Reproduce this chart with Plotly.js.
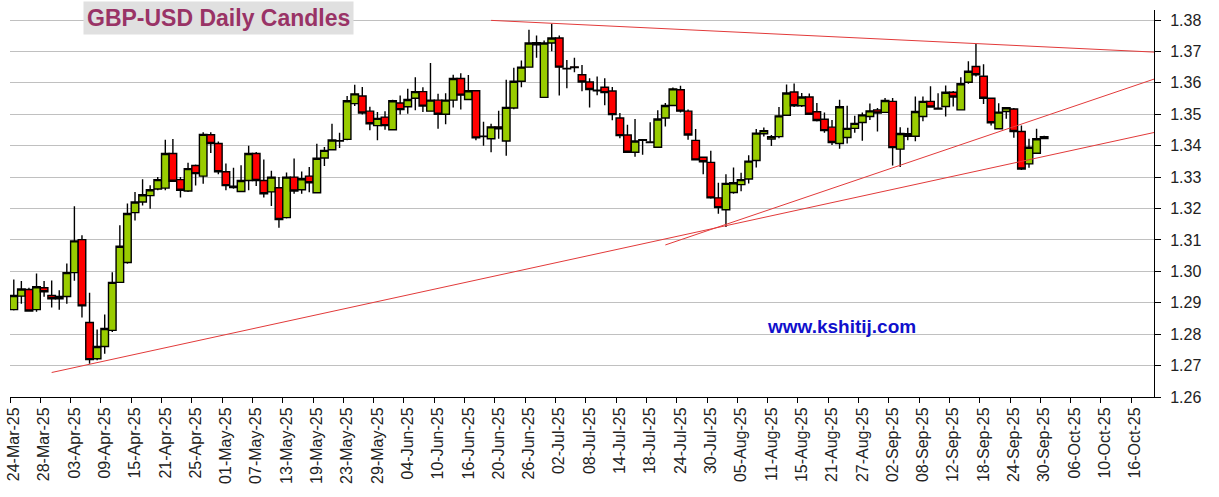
<!DOCTYPE html>
<html>
<head>
<meta charset="utf-8">
<script src="https://cdn.plot.ly/plotly-3.0.1.min.js"></script>
<style>
  html, body { margin: 0; padding: 0; background: #fff; }
  #chart { width: 1219px; height: 497px; }
</style>
</head>
<body>
<div id="chart"></div>
<script>
// ---- Data (GBP-USD daily candles, trading-day index 0 = 24-Mar-25) ----
const firstDay = '2025-03-24';
const lastAxisDay = '2025-10-20';

const openP = [
 1.2878,1.2921,1.2942,1.2878,1.2948,1.2923,1.2913,1.2920,1.2996,1.3101,
 1.2837,1.2722,1.2761,1.2812,1.2965,1.3028,1.3187,1.3221,1.3241,1.3262,
 1.3265,1.3375,1.3292,1.3256,1.3337,1.3303,1.3435,1.3407,1.3317,1.3267,
 1.3254,1.3289,1.3375,1.3289,1.3253,1.3266,1.3171,1.3300,1.3260,1.3303,
 1.3250,1.3361,1.3387,1.3415,1.3420,1.3534,1.3558,1.3510,1.3464,1.3491,
 1.3451,1.3536,1.3524,1.3551,1.3572,1.3510,1.3545,1.3500,1.3545,1.3614,
 1.3547,1.3575,1.3429,1.3422,1.3460,1.3415,1.3520,1.3605,1.3650,1.3728,
 1.3554,1.3727,1.3743,1.3645,1.3651,1.3626,1.3603,1.3577,1.3586,1.3574,
 1.3488,1.3434,1.3379,1.3419,1.3410,1.3395,1.3488,1.3528,1.3578,1.3510,
 1.3417,1.3363,1.3347,1.3234,1.3196,1.3251,1.3276,1.3294,1.3353,1.3438,
 1.3421,1.3429,1.3497,1.3571,1.3527,1.3555,1.3508,1.3484,1.3459,1.3407,
 1.3426,1.3455,1.3474,1.3493,1.3514,1.3506,1.3541,1.3389,1.3438,1.3430,
 1.3493,1.3541,1.3517,1.3525,1.3570,1.3514,1.3602,1.3652,1.3621,1.3551,
 1.3454,1.3509,1.3517,1.3445,1.3342,1.3376,1.3423
];
const highP = [
 1.2974,1.2969,1.2948,1.2993,1.2969,1.2971,1.2940,1.3025,1.3207,1.3115,
 1.2932,1.2815,1.2863,1.2997,1.3147,1.3216,1.3253,1.3293,1.3274,1.3300,
 1.3419,1.3421,1.3300,1.3346,1.3340,1.3443,1.3443,1.3413,1.3343,1.3330,
 1.3338,1.3400,1.3380,1.3356,1.3320,1.3300,1.3315,1.3359,1.3318,1.3332,
 1.3406,1.3396,1.3470,1.3441,1.3558,1.3594,1.3587,1.3524,1.3507,1.3510,
 1.3546,1.3560,1.3581,1.3618,1.3586,1.3663,1.3565,1.3567,1.3626,1.3631,
 1.3625,1.3577,1.3476,1.3470,1.3511,1.3610,1.3648,1.3671,1.3769,1.3751,
 1.3735,1.3788,1.3751,1.3673,1.3680,1.3657,1.3615,1.3620,1.3615,1.3587,
 1.3504,1.3467,1.3485,1.3419,1.3475,1.3513,1.3536,1.3585,1.3591,1.3515,
 1.3453,1.3365,1.3384,1.3282,1.3309,1.3331,1.3314,1.3370,1.3453,1.3458,
 1.3434,1.3523,1.3595,1.3598,1.3568,1.3566,1.3536,1.3506,1.3482,1.3546,
 1.3527,1.3495,1.3506,1.3534,1.3520,1.3552,1.3552,1.3459,1.3457,1.3557,
 1.3557,1.3589,1.3567,1.3592,1.3574,1.3618,1.3669,1.3724,1.3659,1.3552,
 1.3535,1.3523,1.3520,1.3464,1.3422,1.3454,1.3432
];
const lowP = [
 1.2875,1.2897,1.2871,1.2871,1.2919,1.2885,1.2878,1.2897,1.2970,1.2853,
 1.2706,1.2717,1.2738,1.2807,1.2963,1.3024,1.3162,1.3210,1.3199,1.3258,
 1.3258,1.3285,1.3235,1.3253,1.3273,1.3279,1.3377,1.3309,1.3258,1.3263,
 1.3253,1.3258,1.3272,1.3235,1.3208,1.3139,1.3168,1.3247,1.3247,1.3252,
 1.3250,1.3335,1.3386,1.3393,1.3417,1.3526,1.3499,1.3449,1.3417,1.3451,
 1.3449,1.3499,1.3502,1.3513,1.3507,1.3508,1.3454,1.3468,1.3522,1.3515,
 1.3545,1.3417,1.3400,1.3379,1.3422,1.3368,1.3516,1.3586,1.3648,1.3680,
 1.3552,1.3701,1.3560,1.3583,1.3634,1.3573,1.3522,1.3561,1.3529,1.3481,
 1.3424,1.3378,1.3365,1.3371,1.3408,1.3394,1.3461,1.3527,1.3506,1.3419,
 1.3353,1.3309,1.3231,1.3183,1.3141,1.3247,1.3255,1.3280,1.3331,1.3429,
 1.3399,1.3424,1.3495,1.3523,1.3523,1.3498,1.3477,1.3441,1.3402,1.3390,
 1.3407,1.3441,1.3416,1.3482,1.3445,1.3504,1.3337,1.3332,1.3417,1.3414,
 1.3478,1.3521,1.3516,1.3493,1.3525,1.3513,1.3597,1.3620,1.3533,1.3464,
 1.3452,1.3486,1.3425,1.3323,1.3330,1.3376,1.3422
];
const closeP = [
 1.2923,1.2944,1.2874,1.2951,1.2935,1.2913,1.2920,1.2996,1.3097,1.2890,
 1.2719,1.2761,1.2818,1.2965,1.3080,1.3184,1.3221,1.3244,1.3260,1.3292,
 1.3375,1.3287,1.3258,1.3327,1.3311,1.3436,1.3407,1.3317,1.3273,1.3271,
 1.3289,1.3375,1.3289,1.3247,1.3300,1.3165,1.3300,1.3256,1.3295,1.3282,
 1.3360,1.3385,1.3418,1.3416,1.3543,1.3565,1.3504,1.3470,1.3487,1.3464,
 1.3543,1.3515,1.3547,1.3572,1.3526,1.3545,1.3500,1.3545,1.3614,1.3561,
 1.3575,1.3425,1.3430,1.3460,1.3454,1.3522,1.3605,1.3650,1.3727,1.3721,
 1.3727,1.3743,1.3650,1.3646,1.3649,1.3603,1.3579,1.3575,1.3569,1.3499,
 1.3432,1.3379,1.3415,1.3417,1.3412,1.3485,1.3528,1.3581,1.3510,1.3434,
 1.3355,1.3349,1.3234,1.3203,1.3280,1.3282,1.3292,1.3351,1.3440,1.3448,
 1.3429,1.3495,1.3568,1.3527,1.3555,1.3500,1.3480,1.3448,1.3410,1.3524,
 1.3455,1.3471,1.3498,1.3511,1.3504,1.3544,1.3394,1.3439,1.3430,1.3509,
 1.3541,1.3523,1.3519,1.3570,1.3555,1.3597,1.3637,1.3626,1.3551,1.3473,
 1.3507,1.3521,1.3445,1.3326,1.3395,1.3422,1.3429
];

// Tick labels shown every 4 trading days
const tickLabels = [
 '24-Mar-25','28-Mar-25','03-Apr-25','09-Apr-25','15-Apr-25','21-Apr-25','25-Apr-25',
 '01-May-25','07-May-25','13-May-25','19-May-25','23-May-25','29-May-25','04-Jun-25',
 '10-Jun-25','16-Jun-25','20-Jun-25','26-Jun-25','02-Jul-25','08-Jul-25','14-Jul-25',
 '18-Jul-25','24-Jul-25','30-Jul-25','05-Aug-25','11-Aug-25','15-Aug-25','21-Aug-25',
 '27-Aug-25','02-Sep-25','08-Sep-25','12-Sep-25','18-Sep-25','24-Sep-25','30-Sep-25',
 '06-Oct-25','10-Oct-25','16-Oct-25'
];

// Trend lines: start day, start price, end price (at right edge)
const trendStartDays = ['2025-06-19', '2025-03-31', '2025-07-22'];
const trendStartPrices = [1.3799, 1.2678, 1.3084];
const trendEndPrices = [1.3698, 1.3442, 1.3612];

// ---- weekday index helper ----
function weekdayIndex(dateStr) {
  const d0 = new Date(firstDay + 'T00:00:00Z');
  const d1 = new Date(dateStr + 'T00:00:00Z');
  let n = 0;
  for (let d = new Date(d0); d < d1; d.setUTCDate(d.getUTCDate() + 1)) {
    const wd = d.getUTCDay();
    if (wd !== 0 && wd !== 6) n++;
  }
  return n;
}
const nAxisDays = weekdayIndex(lastAxisDay) + 1; // 151 slots
const xIdx = openP.map((_, i) => i);
const tickVals = tickLabels.map((_, k) => k * 4);
const tickBounds = tickVals.map(v => v - 0.5);

const xMin = -0.5, xMax = nAxisDays - 0.5;

const fontFam = 'Arial, "Liberation Sans", sans-serif';

const trace = {
  type: 'candlestick',
  x: xIdx,
  open: openP, high: highP, low: lowP, close: closeP,
  increasing: { fillcolor: '#99cc00', line: { color: '#000000', width: 1.4 } },
  decreasing: { fillcolor: '#ff0000', line: { color: '#000000', width: 1.4 } },
  whiskerwidth: 0,
  showlegend: false,
  hoverinfo: 'skip'
};

const shapes = trendStartDays.map((d, k) => ({
  type: 'line', xref: 'x', yref: 'y',
  x0: weekdayIndex(d), y0: trendStartPrices[k],
  x1: xMax, y1: trendEndPrices[k],
  line: { color: '#e23a3a', width: 1 },
  layer: 'above'
}));

const layout = {
  width: 1219, height: 497,
  margin: { l: 10, r: 65, t: 10, b: 100, pad: 0 },
  paper_bgcolor: '#ffffff', plot_bgcolor: '#ffffff',
  boxgap: 0, boxgroupgap: 0,
  font: { family: fontFam, size: 16, color: '#222222' },
  xaxis: {
    type: 'linear',
    range: [xMin, xMax],
    tickmode: 'array', tickvals: tickVals, ticktext: tickLabels,
    tickangle: -90,
    ticks: '',
    ticklabelstandoff: 3,
    showgrid: false, zeroline: false,
    showline: true, linecolor: '#000000', linewidth: 1,
    rangeslider: { visible: false },
    tickfont: { family: fontFam, size: 16, color: '#222222' },
    minor: { tickmode: 'array', tickvals: tickBounds, ticks: 'outside', ticklen: 5, tickcolor: '#000000', tickwidth: 1, showgrid: false },
    fixedrange: true
  },
  yaxis: {
    side: 'right',
    range: [1.26, 1.3832],
    tickmode: 'linear', tick0: 1.26, dtick: 0.01,
    tickformat: '.2f',
    ticks: 'outside', ticklen: 6, tickcolor: '#000000', tickwidth: 1,
    ticklabelstandoff: 6,
    showline: true, linecolor: '#000000', linewidth: 1,
    showgrid: true, gridcolor: '#c0c0c0', gridwidth: 1,
    zeroline: false,
    tickfont: { family: fontFam, size: 16, color: '#222222' },
    fixedrange: true
  },
  shapes: shapes,
  annotations: [
    {
      xref: 'paper', yref: 'paper', x: 0.1825, y: 0.9805,
      xanchor: 'center', yanchor: 'middle',
      text: '<b>GBP-USD Daily Candles</b>',
      showarrow: false,
      font: { family: fontFam, size: 23, color: '#993366' },
      bgcolor: '#e0e0e0', borderpad: 3
    },
    {
      xref: 'paper', yref: 'paper', x: 0.7265, y: 0.181,
      xanchor: 'center', yanchor: 'middle',
      text: '<b>www.kshitij.com</b>',
      showarrow: false,
      font: { family: fontFam, size: 19, color: '#1010cc' }
    }
  ]
};

Plotly.newPlot('chart', [trace], layout, { displayModeBar: false, staticPlot: true });
</script>
</body>
</html>
